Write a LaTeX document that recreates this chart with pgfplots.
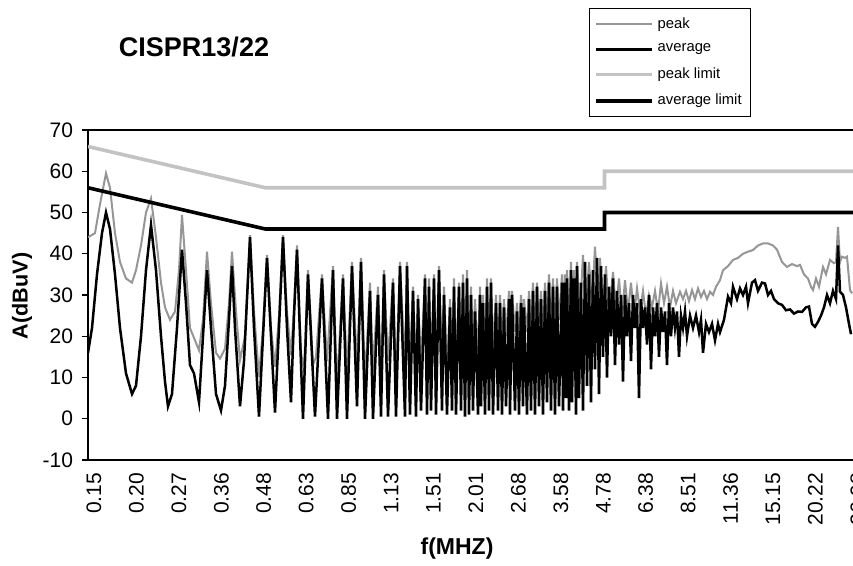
\documentclass[border=0pt]{standalone}
\usepackage{pgfplots}
\pgfplotsset{compat=1.18}
\usepackage{fontspec}
\setmainfont{Liberation Sans}
\definecolor{peakgray}{RGB}{150,150,150}
\definecolor{limgray}{RGB}{195,195,195}

\pgfplotstableread{
x y
0 44
7 45
12 52
18 59.5
22 56
27 45
32 38
38 34
44 33
48 36
53 42
58 50
63 53.4
68 44
73 33
77 27
82 24
87 26
91 36
94 49.4
98 36
102 22
107 19
111 16.6
115 24
119 40.5
123 28
128 16
132 14.6
137 17
141 28
144 40.5
148 26
152 14.2
157 20
162 44.5
166 26
171 10.2
175 22
179 39.7
183 22
187 12.6
191 25
195 44.5
199 26
203 15.4
206 27
209 42
213 16
216 12
220 36
225 13
228 15
234 35
239 14
245 37
249 8
255 35
259 11
264 38
269 13
273 39
277 9
282 33
285 12
290 32
293 10
296 36
300 14
305 34
308 9
312 38
317 12
319 38
322 13
325 32
328 11
330 30
333 13
337 35
339 12
341 34
343 13
346 35
348 12
351 37
354 14
356 32
359 12
362 29
364 14
366 34
368 13
371 33
373 15
375 35
377 13
379 36
381 15
383 32
385 16
387 29
390 15
392 32
393 17
395 30
397 16
399 34
401 18
403 34
405 17
408 30
410 18
412 30
414 19
416 29
418 20
421 31
422 19
424 31
427 21
429 28
431 20
433 30
435 22
436 29
439 21
441 31
443 22
445 33
447 21
449 33
451 23
453 31
455 22
457 33
459 24
461 35
463 23
465 34
467 22
469 34
471 24
474 35
475 23
477 35
478 25
479 36
481 24
483 38
484 25
486 36
488 24
489 38
492 26
495 39.7
498 27
501 38
504 28
507 41.7
510 29
512 39
515 26
518 37
521 25
525 35.6
528 26
531 34
534 25
537 33.6
540 26
543 33
546 25
549 31.6
552 26
555 31
558 25
561 30
564 27
567 31
570 26
573 32.8
576 28
579 32
582 27
585 31
588 28
592 30.8
595 29
598 31
601 28.5
604 31.2
607 29
610 31.6
613 29.5
616 31
619 29
622 30.8
625 30
628 32
632 33.6
635 36
640 37
645 38.5
650 39
655 40
660 40.5
665 40.9
670 42
675 42.5
680 42.5
685 42
689 41
694 38
699 36.8
704 37.5
709 37
712 37.3
716 35
720 34
723 32
725 31.2
728 34
731 32
735 36.8
738 35
742 38.5
746 37.7
748 38
750 46.5
752 38
754 39.3
757 39
759 39.3
762 31.2
764 30.4
}\peakdata

\pgfplotstableread{
x y
0 16
4 22
9 35
14 45
18 50
22 46
27 35
32 22
38 11
44 6
48 8
53 20
58 36
63 47
68 36
73 20
77 9
80 3
84 6
89 22
94 41
98 28
102 13
106 11
111 4
115 20
119 36
123 22
128 6
133 2
137 8
141 24
144 37
147 22
152 3
156 14
162 44
166 22
171 0.5
175 20
179 39
183 20
187 1.5
191 22
195 44
199 22
203 4
206 25
209 41
212 20
215 0
220 35
227 0.5
234 34
240 0
245 36
249 0
255 34
259 0
264 37
269 3
273 38
277 0
282 31
285 0
290 30
293 0.5
296 35
300 0.5
305 33
308 0.5
312 37
317 0.5
319 37
322 1
325 31
328 0.5
330 29
333 2
337 34
339 1
341 32
343 2
346 34
348 1
351 36
354 2
356 30
359 1
362 27
364 2
366 32
368 1
371 32
373 2
375 33
377 0.5
379 34
381 1
383 30
385 2
387 26
390 1
392 30
393 3
395 28
397 1
399 32
401 2
403 33
405 1
408 28
410 2
412 28
414 1
416 27
418 3
421 29
422 1
424 30
427 2
429 26
431 1
433 28
435 3
436 27
439 1
441 29
443 2
445 31
447 1
449 32
451 3
453 29
455 1
457 31
459 4
461 33
463 2
465 32
467 1
469 32
471 3
474 33
475 2
477 33
478 5
479 34
481 2
483 36
484 4
486 34
488 1
489 37
491 5
493 33
495 2
497 38
499 8
501 35
503 4
505 36
507 12
509 39
511 6
513 37
515 15
517 35
519 10
521 32
523 20
525 34
527 13
529 31
531 18
533 30
535 9
537 30
539 20
541 28
543 14
545 30
547 22
549 28
551 5
553 29
555 22
557 27
559 18
561 30
563 12
565 27
567 20
569 28
571 15
573 27
575 21
577 26
579 13
581 28
583 20
585 27
587 22
589 26
591 15
593 25
595 22
597 26
599 20
602 25
605 22
608 25
611 21
613 24
615 16
618 23
621 21
624 23
627 19
630 23
632 21
636 24
640 29.6
643 28
645 32
649 29
652 31.6
655 30
658 32
660 28
664 33
667 33.6
670 31
674 33
677 32.8
680 30
683 31
686 29
690 28
694 27.6
698 26.3
702 26.5
706 25.5
710 26
714 25.9
718 27
721 27.2
724 23
727 22.3
730 23.5
733 25
736 27
739 30
742 28
745 31
748 29
750 42
752 30.8
755 30
758 27
761 23
763 20.5
}\avgdata

\begin{document}
\begin{tikzpicture}
\useasboundingbox (0,0) rectangle (426.5pt,283pt);
\clip (0,0) rectangle (426.5pt,283pt);
\node[font=\bfseries\fontsize{13.5}{15}\selectfont] at (97pt,259.5pt) {CISPR13/22};
\begin{axis}[
  at={(44pt,53pt)}, anchor=south west,
  scale only axis, width=386pt, height=165pt,
  xmin=0, xmax=772, ymin=-10, ymax=70,
  ytick={-10,0,10,20,30,40,50,60,70},
  xtick={0,42.44,84.88,127.32,169.76,212.2,254.64,297.08,339.52,381.96,424.4,466.84,509.28,551.72,594.16,636.6,679.04,721.48,763.92},
  xticklabels={0.15,0.20,0.27,0.36,0.48,0.63,0.85,1.13,1.51,2.01,2.68,3.58,4.78,6.38,8.51,11.36,15.15,20.22,26.98},
  xtick pos=bottom, ytick pos=left,
  tick align=outside,
  major tick length=3pt,
  xtick style={draw=none},
  ytick style={black, line width=0.6pt},
  axis line style={black, line width=0.75pt},
  /pgf/number format/assume math mode=true,
  ticklabel style={font=\fontsize{10.5}{12}\selectfont},
  xticklabel style={rotate=90, anchor=east, yshift=-3pt},
  yticklabel style={anchor=east, xshift=-1pt},
  xlabel={f(MHZ)},
  ylabel={A(dBuV)},
  xlabel style={font=\bfseries\fontsize{11.5}{13}\selectfont, at={(axis description cs:0.478,-0.267)}, anchor=center},
  ylabel style={font=\bfseries\fontsize{10.8}{12}\selectfont, at={(axis description cs:-0.0855,0.497)}, anchor=center},
  legend style={at={(axis description cs:0.6485,1.370)}, anchor=north west,
    draw=black, line width=0.5pt, font=\fontsize{7.4}{8.5}\selectfont,
    inner xsep=2.5pt, inner ysep=2.5pt, row sep=2.4pt},
  legend cell align=left,
  legend image code/.code={\draw[#1] (0pt,0pt) -- (28pt,0pt);},
]
\addplot[peakgray, line width=1pt] table[x=x,y=y] {\peakdata};
\addlegendentry{peak}
\addplot[black, line width=1.25pt] table[x=x,y=y] {\avgdata};
\addlegendentry{average}
\addplot[limgray, line width=1.8pt] coordinates {(0,66) (177.3,56) (516.5,56) (516.5,60) (772,60)};
\addlegendentry{peak limit}
\addplot[black, line width=1.8pt] coordinates {(0,56) (177.3,46) (516.5,46) (516.5,50) (772,50)};
\addlegendentry{average limit}
\end{axis}
\end{tikzpicture}
\end{document}
